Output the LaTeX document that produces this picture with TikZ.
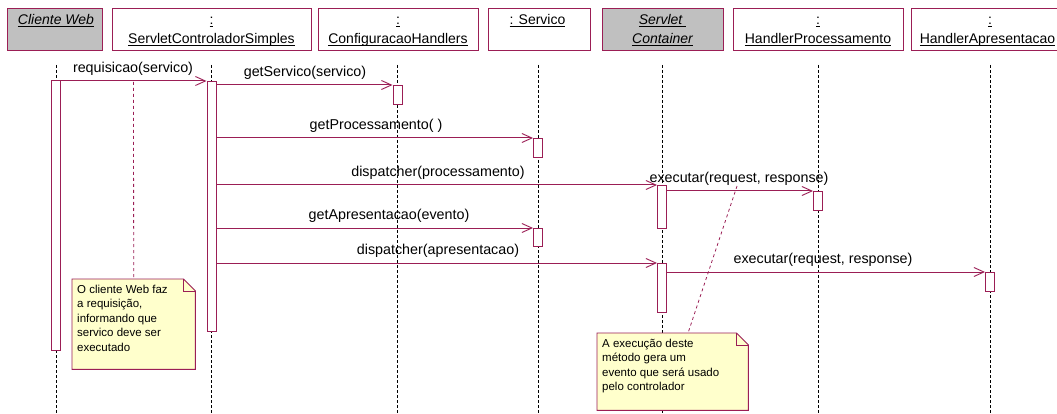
\documentclass[tikz,border=0pt]{standalone}
\usepackage{fontspec}
\setmainfont{Liberation Sans}
\usetikzlibrary{arrows.meta}
\definecolor{lc}{RGB}{155,30,85}
\definecolor{hgray}{RGB}{192,192,192}
\definecolor{notey}{RGB}{255,255,204}
\newsavebox\ulbox
\newcommand\ulx[1]{\sbox\ulbox{#1}\rlap{\usebox\ulbox}\rule[-2.2pt]{\wd\ulbox}{0.8pt}}
\begin{document}
\begin{tikzpicture}[x=1pt,y=-1pt,
  hdr/.style={draw=lc, line width=1pt, fill=white, rectangle, inner sep=0pt, anchor=north west, minimum height=42pt},
  hdrg/.style={hdr, fill=hgray},
  htxt/.style={anchor=base, inner sep=0pt, font=\fontsize{14}{16}\selectfont},
  life/.style={draw=black, line width=0.8pt, dash pattern=on 3pt off 2pt},
  actbar/.style={draw=lc, fill=white, line width=1pt, minimum width=9pt, inner sep=0pt, anchor=north},
  msg/.style={draw=lc, line width=1pt, -{Straight Barb[length=10pt,width=9pt,line width=0.9pt]}},
  mlab/.style={anchor=base, inner sep=0pt, font=\fontsize{14.3}{16}\selectfont},
  notearea/.style={rectangle, draw=none, inner sep=0pt, anchor=north west},
  notebox/.style={draw=lc, fill=notey, line width=0.9pt},
  notelink/.style={draw=lc, line width=0.8pt, dash pattern=on 3pt off 3pt},
  notetxt/.style={font=\fontsize{11.5}{14.5}\selectfont, align=left, anchor=north west, inner sep=0pt}
]
\path[use as bounding box] (0,0) rectangle (1057,414);
\clip (0,0) rectangle (1057,414);
\fill[white] (0,0) rectangle (1057,414);

% header boxes
\node[hdrg, minimum width=95pt] (hcw) at (7,8) {};
\node[hdr, minimum width=199pt] (hsc) at (112,8) {};
\node[hdr, minimum width=160pt] (hcfg) at (318,8) {};
\node[hdr, minimum width=102pt] (hsrv) at (488,8) {};
\node[hdrg, minimum width=121pt] (hsct) at (602,8) {};
\node[hdr, minimum width=170pt] (hhp) at (733,8) {};
\node[hdr, minimum width=158pt] (hha) at (911,8) {};

% header texts
\node[htxt] (tcw) at (56,25) {\itshape\ulx{Cliente Web}};
\node[htxt] (tsc1) at (211.5,25) {\ulx{:}};
\node[htxt] (tsc2) at (211.5,44) {\ulx{ServletControladorSimples}};
\node[htxt] (tcfg1) at (398,25) {\ulx{:}};
\node[htxt] (tcfg2) at (398,44) {\ulx{ConfiguracaoHandlers}};
\node[htxt] (tsrv) at (537.5,25) {\ulx{: Servico}};
\node[htxt] (tsct1) at (662.5,25) {\itshape\ulx{Servlet }};
\node[htxt] (tsct2) at (662.5,44) {\itshape\ulx{Container}};
\node[htxt] (thp1) at (818,25) {\ulx{:}};
\node[htxt] (thp2) at (818,44) {\ulx{HandlerProcessamento}};
\node[htxt] (tha1) at (990,25) {\ulx{:}};
\node[htxt] (tha2) at (987.5,44) {\ulx{HandlerApresentacao}};

% lifelines
\foreach \n/\x in {cw/56, sc/211.5, cfg/397.5, srv/538, sct/662.5, hp/818, ha/990}{
  \coordinate (l\n t) at (\x,65);
  \coordinate (l\n b) at (\x,416);
  \draw[life] (l\n t) -- (l\n b);
}

% note links
\node[notearea, minimum width=123pt, minimum height=90pt] (n1) at (72,279) {};
\node[notearea, minimum width=151pt, minimum height=77pt] (n2) at (597,333) {};
\coordinate (n1a) at (133.5,82);
\draw[notelink] (n1a) -- (n1.north);
\coordinate (n2a) at (737,186);
\path (n2.north west) ++(91,0) coordinate (n2b);
\draw[notelink] (n2a) -- (n2b);

% notes
\draw[notebox] (n1.north west) -- ([xshift=-12pt]n1.north east) -- ([yshift=-12pt]n1.north east) -- (n1.south east) -- (n1.south west) -- cycle;
\draw[lc, line width=0.9pt] ([xshift=-12pt]n1.north east) -- ([xshift=-12pt,yshift=-12pt]n1.north east) -- ([yshift=-12pt]n1.north east);
\draw[notebox] (n2.north west) -- ([xshift=-12pt]n2.north east) -- ([yshift=-12pt]n2.north east) -- (n2.south east) -- (n2.south west) -- cycle;
\draw[lc, line width=0.9pt] ([xshift=-12pt]n2.north east) -- ([xshift=-12pt,yshift=-12pt]n2.north east) -- ([yshift=-12pt]n2.north east);
\node[notetxt] (n1t) at (77,284.5) {O cliente Web faz\\a requisição,\\informando que\\servico deve ser\\executado};
\node[notetxt] (n2t) at (602,338.5) {A execução deste\\método gera um\\evento que será usado\\pelo controlador};

% activation bars
\node[actbar, minimum height=270pt] (cwb) at (56,80) {};
\node[actbar, minimum height=250pt] (scb) at (211.5,81) {};
\node[actbar, minimum height=19pt] (cfgb) at (397.5,85) {};
\node[actbar, minimum height=19pt] (srvb1) at (538,138) {};
\node[actbar, minimum height=43pt] (sctb1) at (662,185) {};
\node[actbar, minimum height=19pt] (hpb) at (818,191) {};
\node[actbar, minimum height=18pt] (srvb2) at (538,228) {};
\node[actbar, minimum height=49pt] (sctb2) at (662,263) {};
\node[actbar, minimum height=19pt] (hab) at (990,272) {};

% messages
\draw[msg] (cwb.east |- scb.north) -- (scb.north west);
\draw[msg] (scb.east |- cfgb.north) -- (cfgb.north west);
\draw[msg] (scb.east |- srvb1.north) -- (srvb1.north west);
\draw[msg] (scb.east |- sctb1.north) -- (sctb1.north west);
\draw[msg] (sctb1.east |- hpb.north) -- (hpb.north west);
\draw[msg] (scb.east |- srvb2.north) -- (srvb2.north west);
\draw[msg] (scb.east |- sctb2.north) -- (sctb2.north west);
\draw[msg] (sctb2.east |- hab.north) -- (hab.north west);

% message labels
\node[mlab] (m1) at (133,72.5) {requisicao(servico)};
\node[mlab] (m2) at (305,76.5) {getServico(servico)};
\node[mlab] (m3) at (376,129.5) {getProcessamento( )};
\node[mlab] (m4) at (438,176.5) {dispatcher(processamento)};
\node[mlab] (m5) at (739,182.5) {executar(request, response)};
\node[mlab] (m6) at (389,219.5) {getApresentacao(evento)};
\node[mlab] (m7) at (438,254.5) {dispatcher(apresentacao)};
\node[mlab] (m8) at (823,263.5) {executar(request, response)};
\end{tikzpicture}
\end{document}
